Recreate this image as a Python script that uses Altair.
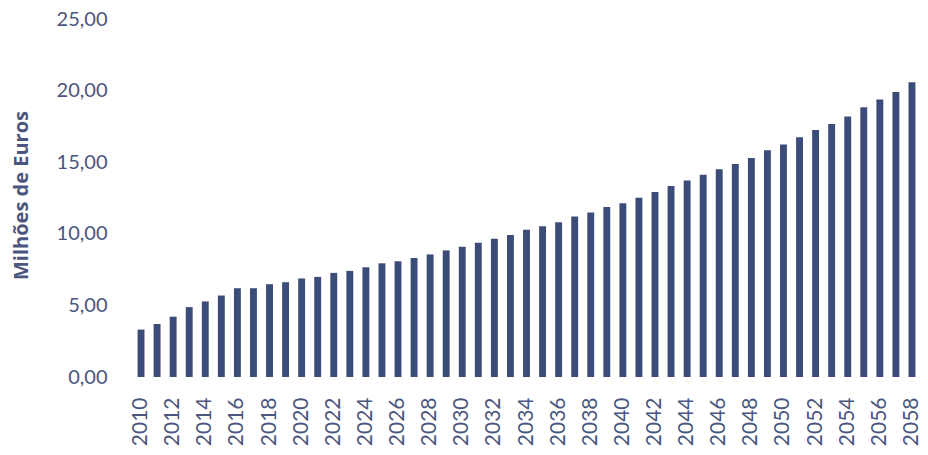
import altair as alt
import pandas as pd

years = [str(y) for y in range(2010, 2059)]
values = [3.31, 3.70, 4.21, 4.88, 5.28, 5.69, 6.20, 6.20, 6.48, 6.62,
          6.88, 6.99, 7.27, 7.41, 7.66, 7.94, 8.08, 8.31, 8.56, 8.84,
          9.10, 9.38, 9.65, 9.91, 10.28, 10.53, 10.81, 11.20, 11.48, 11.88,
          12.13, 12.52, 12.92, 13.33, 13.72, 14.12, 14.51, 14.88, 15.30, 15.83,
          16.23, 16.74, 17.24, 17.66, 18.19, 18.84, 19.38, 19.91, 20.58]
label_years = [str(y) for y in range(2010, 2059, 2)]
y_ticks = [0, 5, 10, 15, 20, 25]

df = pd.DataFrame({"ano": years, "valor": values})

TEXT = "#4a5680"
BAR = "#3c4c78"

chart = alt.Chart(df).mark_bar(color=BAR).encode(
    x=alt.X("ano:O", sort=years,
            scale=alt.Scale(paddingInner=0.57, paddingOuter=0.285),
            axis=alt.Axis(values=label_years, title=None, labelAngle=270,
                          labelAlign="right", labelBaseline="middle",
                          labelPadding=20, ticks=False, domain=False,
                          labelFont="Lato", labelFontSize=21, labelColor=TEXT)),
    y=alt.Y("valor:Q", scale=alt.Scale(domain=[0, 25], nice=False),
            axis=alt.Axis(values=y_ticks, grid=False, domain=False, ticks=False,
                          labelExpr="replace(format(datum.value, '.2f'), '.', ',')",
                          labelPadding=26, labelFont="Lato", labelFontSize=20,
                          labelColor=TEXT,
                          title="Milhões de Euros", titleFont="Open Sans",
                          titleFontSize=20, titleFontWeight="bold",
                          titleColor=TEXT, titleAngle=270,
                          titleAlign="center", titleBaseline="middle",
                          titleX=-112, titleY=176)),
).properties(
    width=787, height=358,
    autosize=alt.AutoSizeParams(type="none"),
    padding={"left": 125, "top": 11, "right": 0, "bottom": 70},
    background="white",
).configure_view(stroke=None, strokeWidth=0)

chart.save("out.html", embed_options={"renderer": "svg", "actions": False})
